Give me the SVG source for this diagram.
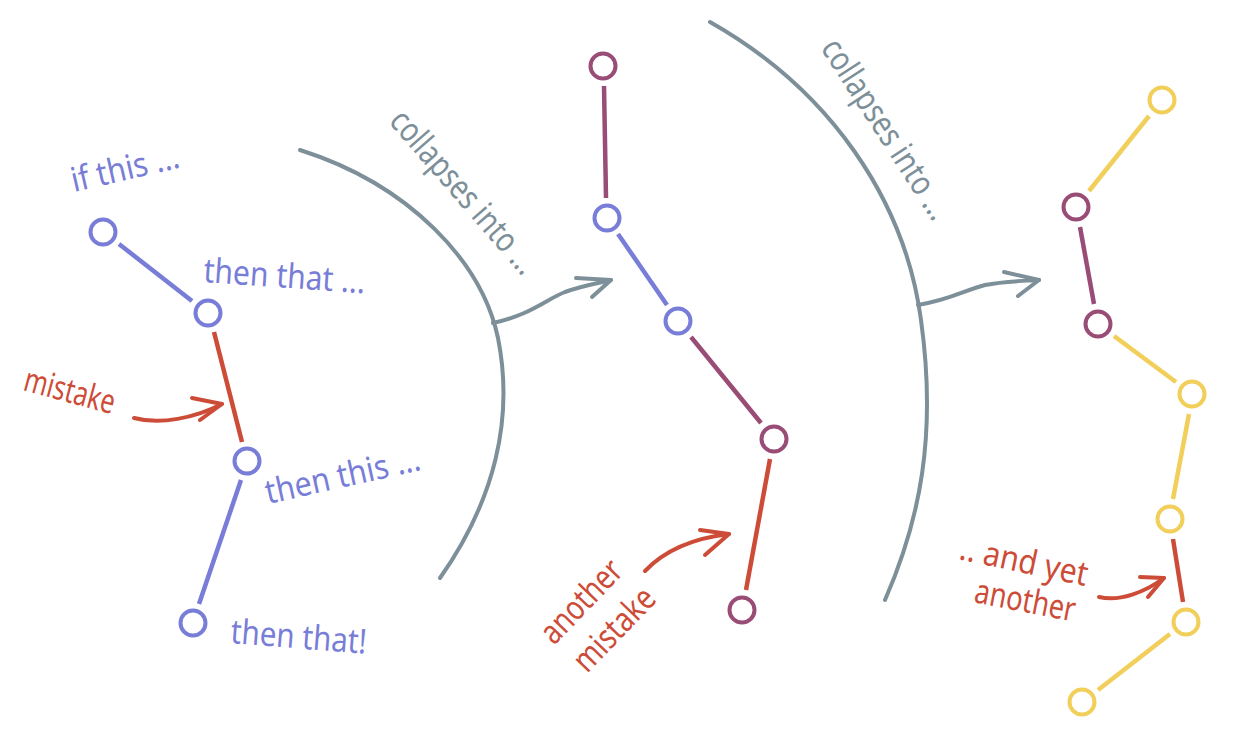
<svg xmlns="http://www.w3.org/2000/svg" width="1240" height="738" viewBox="0 0 1240 738">
<style>
.n{fill:none;stroke-width:4}
.e{fill:none;stroke-width:4.5;stroke-linecap:butt}
.b{stroke:#787dd8}
.p{stroke:#994c75}
.r{stroke:#cd4c38}
.y{stroke:#f1cf5a}
.g{stroke:#7d8f99}
.arc{fill:none;stroke:#7d8f99;stroke-width:4;stroke-linecap:round}
.ar{fill:none;stroke-width:4;stroke-linecap:round;stroke-linejoin:round}
text{font-family:"Noto Sans","DejaVu Sans",sans-serif;font-size:34px;font-weight:400}
.tb{fill:#787dd8}
.tr{fill:#cd4c38}
.tg{fill:#7d8f99}
</style>
<rect width="1240" height="738" fill="#ffffff"/>
<g id="connectors">
<line class="e b" x1="119" y1="244" x2="192" y2="301"/>
<line class="e r" x1="214" y1="332" x2="242" y2="442"/>
<line class="e b" x1="241" y1="480" x2="199" y2="604"/>
<line class="e p" x1="604" y1="86" x2="606" y2="198"/>
<line class="e b" x1="618" y1="234" x2="667" y2="305"/>
<line class="e p" x1="691" y1="337" x2="761" y2="423"/>
<line class="e r" x1="770" y1="459" x2="746" y2="590"/>
<line class="e y" x1="1149" y1="116" x2="1089" y2="191"/>
<line class="e p" x1="1080" y1="227" x2="1094" y2="304"/>
<line class="e y" x1="1114" y1="336" x2="1176" y2="382"/>
<line class="e y" x1="1189" y1="414" x2="1173" y2="499"/>
<line class="e r" x1="1173" y1="539" x2="1183" y2="602"/>
<line class="e y" x1="1170" y1="634" x2="1098" y2="690"/>
<path class="arc" d="M300,150 C410,185 482,262 498,338 C514,418 495,500 440,578"/>
<path class="arc" d="M710,22 C830,90 905,200 921,320 C937,435 920,520 885,600"/>
<path class="ar g" d="M493,323 C530,315 545,300 565,292 C585,285 600,283 611,280"/>
<path class="ar g" d="M576,278 L611,280 L592,297"/>
<path class="ar g" d="M918,305 C950,300 965,290 985,285 C1005,281 1025,281 1039,280"/>
<path class="ar g" d="M1004,272 L1039,280 L1018,296"/>
<path class="ar r" d="M134,418 C160,425 195,418 222,404"/>
<path class="ar r" d="M192,398 L222,404 L200,420"/>
<path class="ar r" d="M645,571 C665,550 695,538 729,534"/>
<path class="ar r" d="M700,530 L729,534 L705,555"/>
<path class="ar r" d="M1099,597 C1120,602 1145,592 1164,578"/>
<path class="ar r" d="M1140,577 L1164,578 L1148,597"/>
</g>
<g id="n1"><circle class="n b" cx="103" cy="232" r="12.5"/></g>
<g id="n2"><circle class="n b" cx="208" cy="313" r="12.5"/></g>
<g id="n3"><circle class="n b" cx="247" cy="461" r="12.5"/></g>
<g id="n4"><circle class="n b" cx="193" cy="623" r="12.5"/></g>
<g id="m1"><circle class="n p" cx="603" cy="66" r="12.5"/></g>
<g id="m2"><circle class="n b" cx="607" cy="218" r="12.5"/></g>
<g id="m3"><circle class="n b" cx="678" cy="321" r="12.5"/></g>
<g id="m4"><circle class="n p" cx="774" cy="439" r="12.5"/></g>
<g id="m5"><circle class="n p" cx="742" cy="610" r="12.5"/></g>
<g id="r1"><circle class="n y" cx="1162" cy="100" r="12.5"/></g>
<g id="r2"><circle class="n p" cx="1076" cy="207" r="12.5"/></g>
<g id="r3"><circle class="n p" cx="1098" cy="324" r="12.5"/></g>
<g id="r4"><circle class="n y" cx="1192" cy="394" r="12.5"/></g>
<g id="r5"><circle class="n y" cx="1170" cy="519" r="12.5"/></g>
<g id="r6"><circle class="n y" cx="1186" cy="622" r="12.5"/></g>
<g id="r7"><circle class="n y" cx="1082" cy="702" r="12.5"/></g>
<g id="labels">
<text class="tb" transform="translate(74,192) rotate(-13)" textLength="110" lengthAdjust="spacingAndGlyphs">if this ...</text>
<text class="tb" transform="translate(203,282) rotate(4)" textLength="162" lengthAdjust="spacingAndGlyphs">then that ...</text>
<text class="tb" transform="translate(268,504) rotate(-12.5)" textLength="158" lengthAdjust="spacingAndGlyphs">then this ...</text>
<text class="tb" transform="translate(230,643) rotate(4.5)" textLength="136" lengthAdjust="spacingAndGlyphs">then that!</text>
<text class="tr" transform="translate(22,390) rotate(15)" textLength="93" lengthAdjust="spacingAndGlyphs">mistake</text>
<text class="tg" transform="translate(388,122) rotate(49)" textLength="205" lengthAdjust="spacingAndGlyphs">collapses into ...</text>
<text class="tg" transform="translate(820,48) rotate(57)" textLength="208" lengthAdjust="spacingAndGlyphs">collapses into ...</text>
<text class="tr" transform="translate(554,646) rotate(-46)" textLength="102" lengthAdjust="spacingAndGlyphs">another</text>
<text class="tr" transform="translate(587,674) rotate(-46)" textLength="102" lengthAdjust="spacingAndGlyphs">mistake</text>
<text class="tr" transform="translate(958,559) rotate(12)" textLength="130" lengthAdjust="spacingAndGlyphs">.. and yet</text>
<text class="tr" transform="translate(973,602) rotate(11)" textLength="102" lengthAdjust="spacingAndGlyphs">another</text>
</g>
</svg>
